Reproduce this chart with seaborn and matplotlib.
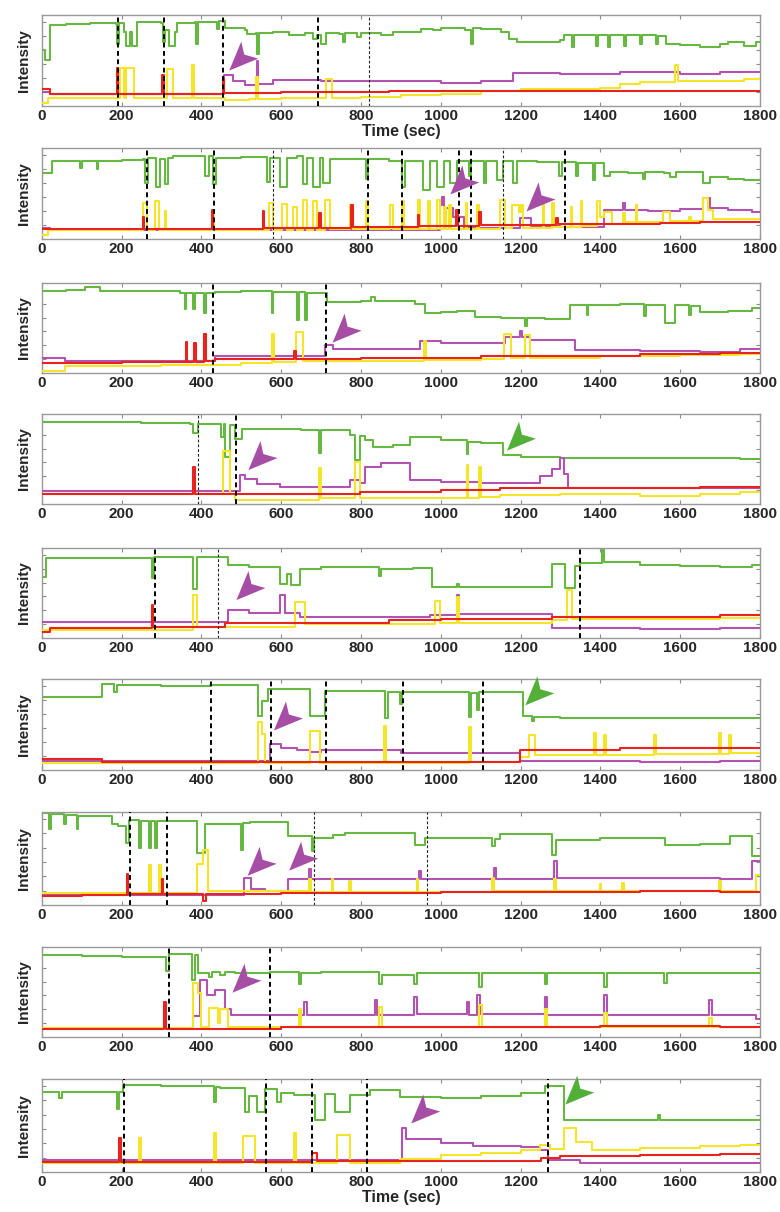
import numpy as np
import pandas as pd
import matplotlib
matplotlib.use("Agg")
import matplotlib.pyplot as plt
import seaborn as sns
from matplotlib.patches import Polygon
from matplotlib.transforms import ScaledTranslation

# ---------------- data (step traces: (start time, level)) ----------------
time_ticks = [0, 200, 400, 600, 800, 1000, 1200, 1400, 1600, 1800]

G1 = [(0,4.0),(8,3.3),(22,5.8),(60,5.85),(120,5.9),(185,5.85),(188,4.4),(193,5.95),(205,5.3),(210,4.3),(222,5.3),(226,4.3),(238,6.0),(300,5.9),(304,4.6),(310,5.4),(318,4.3),(335,5.3),(340,5.95),(385,6.0),(387,4.4),(392,6.0),(440,5.5),(445,6.1),(460,5.6),(510,5.4),(515,5.15),(538,5.2),(540,3.7),(545,5.2),(580,5.3),(620,5.1),(660,5.2),(680,4.8),(690,5.1),(700,4.4),(712,5.2),(745,5.15),(755,4.6),(760,5.2),(790,4.9),(800,5.2),(850,5.1),(880,5.3),(950,5.5),(980,5.4),(1000,5.6),(1060,5.4),(1077,4.4),(1080,5.6),(1100,5.5),(1150,5.3),(1172,4.8),(1190,4.55),(1250,4.6),(1300,4.7),(1310,5.1),(1330,4.2),(1335,5.1),(1390,4.3),(1395,5.1),(1420,4.2),(1425,5.1),(1460,4.3),(1465,5.1),(1500,4.4),(1505,5.05),(1540,4.4),(1545,5.0),(1565,4.4),(1600,4.35),(1650,4.25),(1700,4.4),(1720,4.6),(1760,4.3),(1790,4.6)]
Y1 = [(0,0.2),(15,0.55),(197,2.7),(205,0.6),(210,2.75),(232,0.6),(314,2.65),(330,0.6),(377,2.9),(382,0.6),(460,0.45),(520,0.5),(538,2.1),(543,0.5),(600,0.55),(700,0.6),(712,1.9),(728,0.6),(800,0.65),(900,0.8),(1000,0.85),(1100,1.05),(1200,1.25),(1400,1.3),(1450,1.55),(1500,1.75),(1588,2.9),(1595,1.8),(1700,1.8),(1760,1.9)]
R1 = [(0,1.2),(20,0.85),(189,2.7),(192,0.85),(302,2.2),(306,0.85),(454,1.9),(458,0.95),(600,1.0),(870,1.05),(1500,1.05),(1700,1.1)]
M1 = [(0,1.0),(20,0.85),(456,2.2),(480,1.8),(510,1.5),(540,3.2),(543,1.6),(580,1.85),(700,1.8),(900,1.8),(1000,1.65),(1100,1.8),(1180,2.35),(1300,2.3),(1450,2.4),(1600,2.3),(1700,2.4)]

G2 = [(0,4.7),(25,5.55),(96,5.1),(100,5.55),(138,5.0),(142,5.6),(200,5.65),(255,5.7),(259,4.0),(266,5.8),(286,3.75),(297,5.7),(310,3.9),(316,5.8),(330,5.9),(410,4.5),(418,5.9),(430,3.9),(438,5.8),(500,5.85),(564,4.1),(572,5.8),(597,3.75),(614,5.8),(640,5.9),(655,3.9),(664,5.8),(680,3.75),(697,5.8),(706,4.0),(723,5.7),(780,5.75),(812,4.3),(818,5.7),(870,5.6),(904,3.75),(910,5.6),(956,3.5),(973,5.6),(990,3.75),(1007,5.6),(1023,4.0),(1040,5.6),(1071,4.5),(1076,5.6),(1109,4.0),(1114,5.6),(1140,4.2),(1157,5.6),(1182,4.0),(1190,5.55),(1240,5.5),(1297,4.5),(1303,5.5),(1339,4.5),(1344,5.45),(1381,4.2),(1386,5.4),(1408,4.5),(1425,4.8),(1470,4.75),(1506,4.3),(1511,4.8),(1560,4.75),(1575,4.4),(1590,4.8),(1658,4.0),(1675,4.4),(1720,4.3),(1760,4.2)]
Y2 = [(0,0.3),(15,0.65),(255,2.55),(263,0.65),(284,2.7),(295,0.65),(308,2.0),(312,0.65),(429,2.1),(432,0.65),(570,2.6),(580,0.65),(602,2.5),(614,0.65),(630,2.3),(640,0.65),(655,2.8),(664,0.65),(681,2.7),(689,0.65),(710,2.8),(723,0.7),(773,2.4),(781,0.7),(813,2.7),(818,0.7),(873,2.45),(881,0.7),(904,2.7),(909,0.7),(942,2.8),(947,0.7),(967,2.7),(972,0.7),(990,2.8),(998,0.7),(1009,2.3),(1013,0.7),(1021,2.4),(1026,0.75),(1063,2.55),(1067,0.75),(1092,2.45),(1096,0.75),(1149,2.8),(1161,0.8),(1178,2.45),(1195,1.95),(1200,2.4),(1206,0.8),(1255,2.45),(1259,0.8),(1280,2.55),(1284,0.85),(1326,2.3),(1330,0.85),(1351,2.7),(1355,0.9),(1391,2.7),(1400,1.6),(1410,1.95),(1428,1.1),(1456,1.85),(1461,1.2),(1489,2.4),(1493,1.2),(1556,1.95),(1575,1.3),(1623,1.6),(1628,1.3),(1658,2.9),(1670,2.1),(1683,1.4),(1740,1.45)]
R2 = [(0,0.7),(253,1.6),(257,0.75),(426,2.1),(430,0.75),(554,2.0),(558,0.8),(696,1.85),(700,0.8),(775,2.4),(779,0.85),(942,1.75),(946,0.9),(1038,2.1),(1042,0.95),(1097,1.95),(1101,1.0),(1289,1.5),(1293,1.05),(1400,1.1),(1550,1.15),(1650,1.2),(1750,1.25)]
M2 = [(0,0.8),(20,0.65),(998,2.4),(1003,3.0),(1008,2.2),(1030,1.6),(1057,0.8),(1199,1.5),(1226,0.9),(1300,0.85),(1408,2.1),(1456,2.55),(1462,2.1),(1520,2.0),(1600,2.15),(1658,2.9),(1675,2.2),(1720,2.05),(1780,1.95)]

G3 = [(0,5.9),(60,6.0),(108,6.2),(146,5.95),(250,5.9),(347,5.8),(358,4.65),(362,5.8),(380,4.65),(385,5.8),(407,4.35),(411,5.8),(434,5.85),(500,5.9),(576,4.3),(580,5.85),(640,3.8),(645,5.85),(660,3.8),(665,5.8),(716,5.15),(800,5.2),(825,5.5),(835,5.2),(936,5.0),(961,4.3),(1000,4.4),(1040,4.5),(1086,4.05),(1150,4.0),(1210,3.4),(1215,3.95),(1260,3.9),(1324,4.9),(1366,4.2),(1370,4.9),(1450,5.0),(1510,4.15),(1515,4.9),(1563,3.6),(1588,4.9),(1623,4.2),(1628,4.85),(1650,4.4),(1720,4.45),(1780,4.7)]
Y3 = [(0,0.15),(58,0.5),(300,0.6),(500,0.75),(576,2.85),(581,0.8),(638,2.95),(655,0.85),(750,0.9),(958,2.3),(964,0.95),(1100,1.0),(1158,2.85),(1176,1.05),(1210,2.75),(1224,1.1),(1400,1.2),(1600,1.3),(1750,1.4)]
R3 = [(0,0.7),(200,0.8),(361,2.25),(364,0.8),(382,2.15),(386,0.8),(407,2.85),(412,0.85),(434,1.0),(633,1.6),(637,1.0),(800,1.05),(950,1.1),(1100,1.2),(1300,1.25),(1500,1.35),(1700,1.45)]
M3 = [(0,1.1),(58,0.9),(434,1.25),(710,2.0),(730,1.75),(948,2.3),(1000,2.2),(1161,2.6),(1198,3.0),(1203,2.6),(1224,2.35),(1337,1.65),(1500,1.6),(1650,1.55),(1750,1.7)]

G4 = [(0,5.95),(100,5.9),(250,5.85),(372,5.8),(378,5.1),(392,5.8),(450,4.85),(456,5.8),(460,3.4),(472,5.7),(485,4.7),(503,5.4),(580,5.45),(650,5.35),(696,3.7),(700,5.35),(773,5.0),(785,3.2),(798,4.9),(810,4.6),(830,4.15),(880,4.25),(923,4.85),(1000,4.6),(1065,3.6),(1069,4.5),(1100,4.4),(1155,3.55),(1200,3.4),(1300,3.35),(1450,3.3),(1750,3.25)]
Y4 = [(0,0.7),(455,3.8),(472,0.75),(485,0.3),(696,2.6),(700,0.4),(785,3.0),(798,0.45),(1065,2.8),(1069,0.45),(1097,2.7),(1101,0.5),(1149,0.65),(1300,0.7),(1500,0.6),(1650,0.75),(1750,0.85)]
R4 = [(0,0.7),(380,2.7),(384,0.7),(600,0.75),(798,0.9),(1000,1.0),(1149,1.15),(1650,1.2)]
M4 = [(0,0.95),(497,2.1),(510,1.8),(540,1.45),(597,1.25),(773,1.75),(798,1.5),(810,2.7),(850,2.95),(923,1.75),(1000,1.6),(1100,1.55),(1249,2.0),(1280,2.5),(1298,3.3),(1310,2.2),(1320,1.15),(1700,1.15)]

G5 = [(0,4.4),(10,5.75),(100,5.8),(276,4.3),(282,5.85),(378,3.55),(388,5.85),(466,5.25),(520,5.15),(597,3.9),(615,4.6),(625,3.8),(647,5.0),(700,5.1),(846,4.5),(851,5.0),(930,5.05),(978,3.7),(1040,3.9),(1045,3.7),(1280,5.35),(1312,3.6),(1337,5.2),(1349,5.4),(1404,6.6),(1408,5.5),(1500,5.3),(1600,5.2),(1700,5.15),(1780,5.3)]
Y5 = [(0,0.6),(378,3.1),(388,0.8),(635,2.6),(660,1.0),(986,2.7),(998,1.1),(1040,2.95),(1045,1.1),(1280,1.3),(1316,3.45),(1330,1.35),(1700,1.45)]
R5 = [(0,0.45),(20,0.75),(276,2.35),(280,0.8),(460,1.05),(700,1.1),(870,1.3),(1000,1.4),(1280,1.5),(1500,1.55),(1700,1.65)]
M5 = [(0,1.15),(466,2.0),(520,1.8),(597,3.1),(610,1.8),(647,1.5),(800,1.55),(973,1.65),(1040,3.1),(1045,1.7),(1150,1.75),(1280,0.7),(1500,0.65),(1700,0.7)]

G6 = [(0,5.2),(152,6.15),(180,5.6),(188,6.05),(300,6.0),(422,6.05),(541,3.85),(553,4.9),(566,5.8),(673,3.85),(710,5.65),(861,3.7),(867,5.55),(898,4.7),(902,5.55),(1072,3.8),(1076,5.5),(1090,4.3),(1095,5.55),(1205,3.85),(1228,3.5),(1234,3.8),(1300,3.75)]
Y6 = [(0,0.5),(541,3.4),(553,2.6),(560,0.5),(673,2.8),(698,0.5),(859,3.15),(864,0.5),(1072,3.1),(1076,0.55),(1199,0.9),(1222,2.5),(1236,1.1),(1385,2.65),(1389,1.1),(1410,2.5),(1414,1.1),(1535,2.5),(1539,1.15),(1698,2.65),(1702,1.15),(1723,2.5),(1727,1.2)]
R6 = [(0,0.8),(150,0.55),(520,0.6),(1199,1.45),(1450,1.55),(1700,1.6)]
M6 = [(0,0.65),(573,1.85),(600,1.6),(640,1.4),(673,1.3),(700,1.45),(900,1.25),(1050,1.2),(1199,0.65),(1500,0.6),(1700,0.65)]

G7 = [(0,6.4),(19,5.3),(24,6.35),(56,5.65),(60,6.3),(88,5.3),(92,6.2),(176,5.65),(190,5.5),(212,4.3),(218,5.95),(244,4.0),(250,5.9),(270,4.0),(274,5.9),(284,4.0),(290,5.85),(322,5.9),(388,3.6),(410,5.65),(500,3.85),(505,5.75),(522,5.8),(616,4.8),(677,3.75),(682,4.7),(730,4.9),(760,5.05),(936,4.2),(961,4.7),(1128,4.1),(1135,4.6),(1149,4.95),(1278,3.5),(1290,4.55),(1400,4.7),(1562,4.2),(1650,4.25),(1725,4.8),(1780,3.4)]
Y7 = [(0,0.85),(270,2.8),(274,0.85),(295,2.8),(299,0.85),(388,2.9),(405,3.85),(416,0.95),(671,1.8),(676,0.9),(727,1.8),(731,0.9),(771,1.7),(775,0.9),(940,1.8),(944,0.9),(1128,1.9),(1133,0.95),(1285,1.8),(1290,0.95),(1398,1.45),(1402,0.95),(1454,1.55),(1458,0.95),(1698,1.7),(1702,1.0),(1790,2.1)]
R7 = [(0,0.6),(100,0.7),(213,2.2),(217,0.75),(301,1.8),(305,0.8),(405,0.3),(412,0.8),(600,0.85),(1000,0.9),(1500,0.95),(1700,0.9)]
M7 = [(0,0.7),(508,1.9),(525,1.1),(560,0.95),(616,1.8),(671,2.5),(676,1.8),(946,2.4),(951,1.8),(1134,2.6),(1139,1.85),(1285,3.1),(1292,1.9),(1700,1.85),(1780,3.1)]

G8 = [(0,5.9),(100,5.85),(200,5.8),(312,4.8),(318,6.0),(376,4.1),(384,5.9),(392,4.6),(420,4.3),(428,4.7),(447,4.5),(460,4.7),(485,4.6),(572,4.7),(645,3.85),(651,4.6),(700,4.7),(846,3.85),(852,4.5),(934,3.85),(940,4.6),(1097,3.6),(1103,4.6),(1260,3.85),(1266,4.6),(1410,3.6),(1416,4.6),(1560,3.9),(1566,4.65),(1700,4.6)]
Y8 = [(0,0.65),(378,3.9),(392,3.2),(400,0.7),(420,2.1),(441,1.0),(447,2.0),(466,0.7),(645,2.0),(651,0.7),(846,2.2),(852,0.7),(1097,2.3),(1103,0.7),(1260,2.0),(1266,0.7),(1410,1.7),(1416,0.75),(1673,1.4),(1679,0.75)]
R8 = [(0,0.55),(307,2.55),(311,0.6),(600,0.7),(1000,0.75),(1400,0.8),(1700,0.75)]
M8 = [(0,0.65),(380,1.5),(397,4.1),(415,3.0),(434,3.4),(460,2.0),(475,1.6),(658,2.55),(664,1.6),(834,2.65),(840,1.6),(934,2.9),(940,1.65),(1065,2.55),(1071,1.6),(1092,3.0),(1098,1.65),(1260,2.9),(1266,1.6),(1410,3.0),(1416,1.6),(1673,2.65),(1679,1.6),(1790,1.3)]

G9 = [(0,5.6),(44,5.15),(50,5.6),(188,4.4),(194,5.6),(203,6.1),(300,6.0),(432,4.9),(437,5.95),(447,5.85),(509,4.2),(520,5.3),(540,4.2),(560,5.8),(590,4.9),(600,5.5),(633,5.4),(685,3.6),(710,5.45),(735,4.2),(773,5.4),(823,5.7),(898,5.25),(1000,5.15),(1100,5.3),(1200,5.55),(1262,6.0),(1310,3.6),(1400,3.65),(1545,4.0),(1549,3.6),(1700,3.65)]
Y9 = [(0,0.6),(244,2.4),(248,0.6),(432,2.75),(436,0.6),(505,2.55),(535,0.6),(633,2.7),(637,0.6),(740,2.6),(773,0.6),(898,0.9),(1000,1.2),(1100,1.3),(1200,1.55),(1249,1.9),(1274,1.6),(1308,3.1),(1340,2.1),(1380,1.55),(1500,1.7),(1650,1.8),(1750,1.9)]
R9 = [(0,0.7),(194,2.4),(198,0.7),(678,1.3),(690,0.75),(1100,0.8),(1250,1.0),(1300,1.15),(1500,1.2),(1700,1.25)]
M9 = [(0,0.85),(904,3.05),(912,2.3),(1000,2.05),(1080,1.85),(1200,1.75),(1249,1.55),(1268,0.85),(1350,0.65),(1700,0.6)]

# dashed event markers: (time, thin?)
D1 = [(190,0),(307,0),(455,0),(693,0),(820,1)]
D2 = [(265,0),(433,0),(580,1),(818,0),(904,0),(1046,0),(1077,0),(1157,1),(1311,0)]
D3 = [(430,0),(713,0)]
D4 = [(392,1),(486,0)]
D5 = [(285,0),(443,1),(1350,0)]
D6 = [(425,0),(575,0),(713,0),(905,0),(1105,0)]
D7 = [(222,0),(315,0),(683,1),(965,1)]
D8 = [(320,0),(572,0)]
D9 = [(205,0),(563,0),(678,0),(815,0),(1268,0)]

# arrowheads: (time, intensity at tip, kind)
A1 = [(470,2.53,"m")]
A2 = [(1024,3.18,"m"),(1215,1.97,"m")]
A3 = [(729,2.19,"m")]
A4 = [(518,2.45,"m"),(1166,3.85,"g")]
A5 = [(488,2.74,"m")]
A6 = [(582,2.82,"m"),(1212,4.62,"g")]
A7 = [(516,2.04,"m"),(620,2.40,"m")]
A8 = [(478,3.2,"m")]
A9 = [(926,3.39,"m"),(1312,4.71,"g")]

# ---------------- styling ----------------
GREEN, YELLOW, MAGENTA, RED = "#66b843", "#f4e42a", "#b252b2", "#e8231e"
ARROW = {"m": "#a64ea6", "g": "#52b038"}

sns.set_style("white")
plt.rcParams["font.family"] = ["Liberation Sans", "DejaVu Sans"]

fig = plt.figure(figsize=(7.8, 12.12), dpi=100)
W, H = 780.0, 1212.0

panel_px = [(15, 106), (148, 239), (283, 373), (414, 504), (548, 638),
            (679, 770), (812, 905), (947, 1037), (1079, 1172)]
traces = [(G1, Y1, M1, R1), (G2, Y2, M2, R2), (G3, Y3, M3, R3), (G4, Y4, M4, R4),
          (G5, Y5, M5, R5), (G6, Y6, M6, R6), (G7, Y7, M7, R7), (G8, Y8, M8, R8),
          (G9, Y9, M9, R9)]
dashes = [D1, D2, D3, D4, D5, D6, D7, D8, D9]
arrows = [A1, A2, A3, A4, A5, A6, A7, A8, A9]


def step_frame(steps):
    t = [s[0] for s in steps] + [1800]
    v = [s[1] for s in steps] + [steps[-1][1]]
    return pd.DataFrame({"t": t, "v": v})


def arrowhead(ax, t, y, color):
    # notched arrowhead pointing down-left, tip at (t, y); offsets in pixels
    verts = np.array([[0, 0], [12, 29], [15, 16], [29, 12]]) / 100.0
    tr = fig.dpi_scale_trans + ScaledTranslation(t, y, ax.transData)
    ax.add_patch(Polygon(verts, closed=True, transform=tr, facecolor=color,
                         edgecolor="none", clip_on=False, zorder=6))


left_px, right_px = 41.7, 760.0
for i, ((top, bot), (g, y, m, r)) in enumerate(zip(panel_px, traces)):
    ax = fig.add_axes([left_px / W, 1 - bot / H, (right_px - left_px) / W, (bot - top) / H])
    for steps, col, z in ((g, GREEN, 2), (m, MAGENTA, 3), (y, YELLOW, 3.5), (r, RED, 4)):
        sns.lineplot(data=step_frame(steps), x="t", y="v", ax=ax, color=col, lw=1.5,
                     drawstyle="steps-post", estimator=None, sort=False, zorder=z)
    for t, thin in dashes[i]:
        ax.axvline(t, color="#222222" if thin else "black", lw=0.8 if thin else 1.4,
                   ls=(0, (2.5, 1.8)), zorder=5)
    ax.set_xlim(0, 1800)
    ax.set_ylim(0, 6.5)
    ax.set_xticks(time_ticks)
    ax.set_xticklabels([str(v) for v in time_ticks], fontsize=11, fontweight="bold")
    ax.set_yticks([1, 2, 3, 4, 5, 6])
    ax.tick_params(axis="both", direction="in", length=3, color="#8c8c8c",
                   top=True, right=True, left=True, bottom=True, labelleft=False, pad=2)
    for sp in ax.spines.values():
        sp.set_color("#999999")
        sp.set_linewidth(1.0)
    ax.set_ylabel("Intensity", fontsize=11, fontweight="bold", labelpad=8)
    if i in (0, 8):
        ax.set_xlabel("Time (sec)", fontsize=11.5, fontweight="bold", labelpad=1)
    else:
        ax.set_xlabel("")
    for t, v, kind in arrows[i]:
        arrowhead(ax, t, v, ARROW[kind])

fig.savefig("out.png", dpi=100)
